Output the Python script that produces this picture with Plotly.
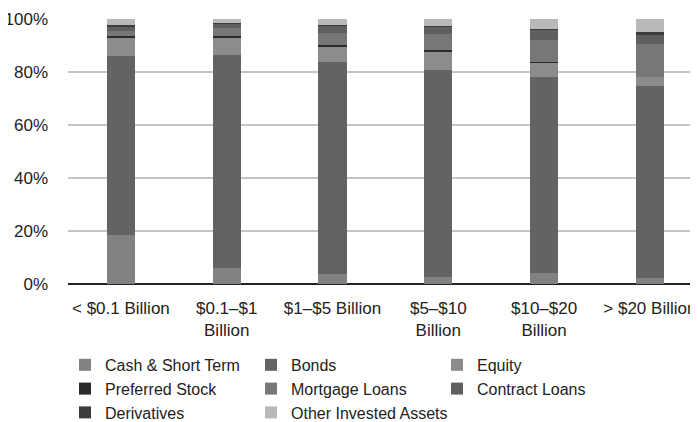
import plotly.graph_objects as go

categories = ["< $0.1 Billion", "$0.1–$1<br>Billion", "$1–$5 Billion", "$5–$10<br>Billion", "$10–$20<br>Billion", "> $20 Billion"]

cash = [18.5, 6.2, 3.7, 2.6, 4.2, 2.3]
bonds = [67.5, 80.2, 80.2, 78.2, 74.0, 72.4]
equity = [6.7, 6.6, 5.9, 7.1, 5.3, 3.5]
preferred = [0.8, 0.4, 0.4, 0.5, 0.1, 0.1]
mortgage = [2.0, 3.1, 4.4, 5.9, 8.6, 12.1]
contract = [1.8, 1.9, 2.9, 2.9, 3.8, 3.4]
derivatives = [0.4, 0.1, 0.1, 0.3, 0.4, 1.2]
other = [2.3, 1.5, 2.4, 2.5, 3.6, 5.0]

series = [
    ("Cash & Short Term", cash, "#828282"),
    ("Bonds", bonds, "#636363"),
    ("Equity", equity, "#8c8c8c"),
    ("Preferred Stock", preferred, "#2b2b2b"),
    ("Mortgage Loans", mortgage, "#777777"),
    ("Contract Loans", contract, "#5f5f5f"),
    ("Derivatives", derivatives, "#3c3c3c"),
    ("Other Invested Assets", other, "#b9b9b9"),
]

font_family = "Liberation Sans, Arial, sans-serif"

fig = go.Figure()
for name, vals, color in series:
    fig.add_trace(go.Bar(
        x=list(range(len(categories))), y=vals, name=name,
        marker=dict(color=color, line=dict(width=0)),
        width=0.265,
    ))

fig.update_layout(
    width=690, height=414,
    barmode="stack",
    margin=dict(l=60, r=0, t=11, b=138, autoexpand=False),
    plot_bgcolor="white", paper_bgcolor="white",
    font=dict(family=font_family, size=17, color="#222222"),
    showlegend=True,
    legend=dict(
        orientation="h", traceorder="normal",
        xref="container", x=0.0826, xanchor="left",
        yref="container", y=0.179, yanchor="top",
        entrywidth=141, entrywidthmode="pixels",
        font=dict(size=16), itemwidth=30,
        tracegroupgap=0,
    ),
    xaxis=dict(
        tickmode="array", tickvals=list(range(len(categories))), ticktext=categories,
        range=[-0.5, 5.455], showgrid=False, zeroline=False,
        showline=False, ticks="", ticklabeloverflow="allow",
        ticklabelstandoff=12,
        tickfont=dict(size=17),
    ),
    yaxis=dict(
        range=[0, 100], tickvals=[0, 20, 40, 60, 80, 100],
        ticktext=["0%", "20%", "40%", "60%", "80%", "100%"],
        showgrid=True, gridcolor="#c4c4c4", gridwidth=2,
        zeroline=True, zerolinecolor="#222222", zerolinewidth=2,
        showline=False, ticks="", ticklabelstandoff=19,
        tickfont=dict(size=17),
    ),
)

fig.write_html("out.html")
